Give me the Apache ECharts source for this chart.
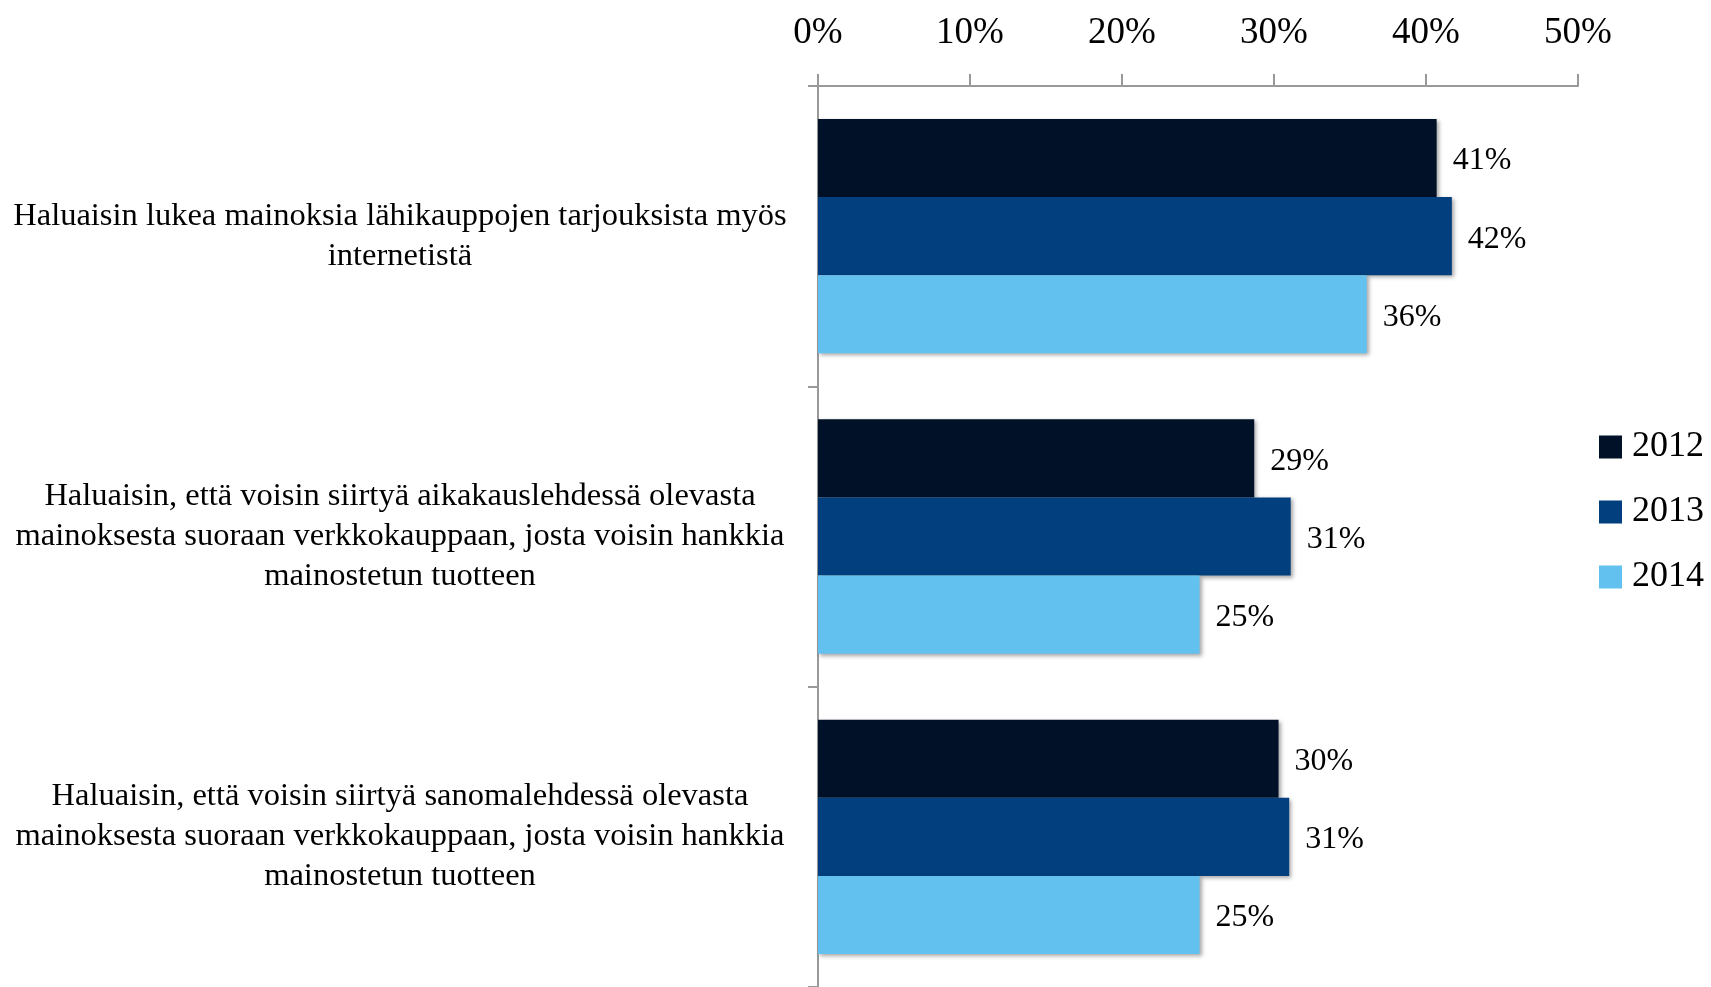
<!DOCTYPE html>
<html>
<head>
<meta charset="utf-8">
<script src="https://cdn.jsdelivr.net/npm/echarts@6/dist/echarts.min.js"></script>
<style>html,body{margin:0;padding:0;background:#fff}#c{width:1711px;height:987px}</style>
</head>
<body>
<div id="c"></div>
<script>
const categories = [
  'Haluaisin lukea mainoksia lähikauppojen tarjouksista myös\ninternetistä',
  'Haluaisin, että voisin siirtyä aikakauslehdessä olevasta\nmainoksesta suoraan verkkokauppaan, josta voisin hankkia\nmainostetun tuotteen',
  'Haluaisin, että voisin siirtyä sanomalehdessä olevasta\nmainoksesta suoraan verkkokauppaan, josta voisin hankkia\nmainostetun tuotteen'
];
const seriesNames = ['2012', '2013', '2014'];
const values2012 = [40.7, 28.7, 30.3];
const values2013 = [41.7, 31.1, 31.0];
const values2014 = [36.1, 25.1, 25.1];
const xTicks = [0, 10, 20, 30, 40, 50];

const colors = ['#001128', '#013f7e', '#62c1ee'];
const FONT = '"Liberation Serif", "DejaVu Serif", serif';
const data = [values2012, values2013, values2014];

const chart = echarts.init(document.getElementById('c'));
chart.setOption({
  animation: false,
  textStyle: { fontFamily: FONT },
  grid: { left: 818, top: 86, width: 760, height: 906, containLabel: false },
  legend: {
    orient: 'vertical',
    left: 1594,
    top: 424,
    itemWidth: 23,
    itemHeight: 23,
    itemGap: 29,
    icon: 'rect',
    textStyle: { fontFamily: FONT, fontSize: 36, color: '#000', lineHeight: 36, padding: [0, 0, 0, 5] },
    data: seriesNames
  },
  xAxis: {
    type: 'value',
    position: 'top',
    min: xTicks[0],
    max: xTicks[xTicks.length - 1],
    interval: 10,
    splitLine: { show: false },
    axisLine: { show: true, lineStyle: { color: '#999999', width: 2 } },
    axisTick: { show: true, length: 12, lineStyle: { color: '#999999', width: 2 } },
    axisLabel: { formatter: v => v + '%', fontFamily: FONT, fontSize: 37, color: '#000', margin: 34 }
  },
  yAxis: {
    type: 'category',
    inverse: true,
    data: categories,
    axisLine: { show: true, lineStyle: { color: '#999999', width: 2 } },
    axisTick: { show: true, length: 10, lineStyle: { color: '#999999', width: 2 } },
    axisLabel: { fontFamily: FONT, fontSize: 32.5, lineHeight: 40, color: '#000', align: 'center', margin: 418, padding: [4, 0, 0, 0] }
  },
  series: seriesNames.map((name, i) => ({
    name: name,
    type: 'bar',
    data: data[i],
    barGap: '0%',
    barCategoryGap: '22%',
    itemStyle: {
      color: colors[i],
      shadowColor: 'rgba(0,0,0,0.35)',
      shadowBlur: 4,
      shadowOffsetX: 2,
      shadowOffsetY: 2
    },
    label: {
      show: true,
      position: 'right',
      distance: 16,
      offset: [0, 3],
      formatter: p => Math.round(p.value) + '%',
      fontFamily: FONT,
      fontSize: 32,
      color: '#000'
    }
  }))
});
</script>
</body>
</html>
